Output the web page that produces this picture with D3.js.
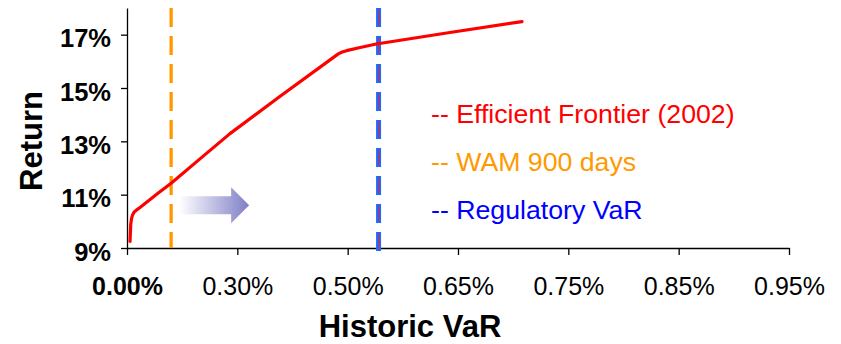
<!DOCTYPE html>
<html lang="en">
  <head>
    <meta charset="utf-8">
    <title>Efficient Frontier vs Historic VaR</title>
    <script src="https://d3js.org/d3.v7.min.js"></script>
    <style type="text/css">
      body,html{
        margin: 0;
        padding: 0;
        background: #fff;
        font-family: Arial, "Liberation Sans", sans-serif;
      }
      .axis path, .axis line{
        stroke: #000;
        stroke-width: 1.3px;
      }
    </style>
  </head>
  <body>
    <script type="text/javascript">

      var w = 841;
      var h = 344;

      var margin = {top: 8, right: 52, bottom: 96, left: 127};
      var width = w - margin.left - margin.right;
      var height = h - margin.top - margin.bottom;

      // efficient frontier (2002)
      var frontierVaR    = [0.0082, 0.0101, 0.0122, 0.0149, 0.019, 0.0264, 0.0353, 0.085, 0.12, 0.20, 0.28, 0.377, 0.483, 0.490, 0.498, 0.517, 0.539, 0.639, 0.708];
      var frontierReturn = [9.25, 9.87, 10.10, 10.23, 10.34, 10.43, 10.52, 11.06, 11.43, 12.36, 13.29, 14.68, 16.28, 16.35, 16.40, 16.52, 16.65, 17.08, 17.49];

      var wamVaR = 0.12;        // WAM 900 days
      var regulatoryVaR = 0.542; // Regulatory VaR

      var xTicks = [0, 0.30, 0.50, 0.65, 0.75, 0.85, 0.95];
      var yTicks = [9, 11, 13, 15, 17];

      var legendLabels = ["-- Efficient Frontier (2002)", "-- WAM 900 days", "-- Regulatory VaR"];
      var legendColors = ["#ff0000", "#ff9900", "#0000ff"];

      var svg = d3.select("body")
        .append("svg")
        .attr("width", w)
        .attr("height", h);

      var g = svg.append("g")
        .attr("transform", "translate(" + margin.left + "," + margin.top + ")");

      // the axis labels are evenly spaced though the values are not -> polylinear scale
      var x = d3.scaleLinear()
        .domain(xTicks)
        .range(xTicks.map(function(d, i){ return i * width / (xTicks.length - 1); }));

      var y = d3.scaleLinear()
        .domain([9, 18])
        .range([height, 0]);

      // arrow gradient
      var defs = svg.append("defs");
      var grad = defs.append("linearGradient")
        .attr("id", "arrowGrad")
        .attr("x1", "0%").attr("x2", "100%");
      grad.append("stop").attr("offset", "0%").attr("stop-color", "#ffffff");
      grad.append("stop").attr("offset", "100%").attr("stop-color", "#7f7fc6");

      // axes
      var xAxis = g.append("g")
        .attr("class", "axis")
        .attr("transform", "translate(0," + height + ")")
        .call(d3.axisBottom(x)
          .tickValues(xTicks)
          .tickSize(7)
          .tickSizeOuter(0)
          .tickPadding(22)
          .tickFormat(function(d){ return d3.format(".2f")(d) + "%"; }));

      xAxis.selectAll("text")
        .style("font-size", "25px")
        .style("font-family", "Arial, 'Liberation Sans', sans-serif")
        .attr("fill", "#000")
        .style("font-weight", function(d, i){ return i == 0 ? "bold" : "normal"; });

      var yAxis = g.append("g")
        .attr("class", "axis")
        .call(d3.axisLeft(y)
          .tickValues(yTicks)
          .tickSize(6)
          .tickSizeOuter(0)
          .tickPadding(10)
          .tickFormat(function(d){ return d + "%"; }));

      yAxis.selectAll("text")
        .attr("dy", "0.48em")
        .attr("fill", "#000")
        .style("font-size", "25.5px")
        .style("font-weight", "bold")
        .style("font-family", "Arial, 'Liberation Sans', sans-serif");

      // vertical reference lines
      g.append("line")
        .attr("x1", x(wamVaR)).attr("x2", x(wamVaR))
        .attr("y1", 0).attr("y2", height)
        .attr("stroke", "#ff9900")
        .attr("stroke-width", 3.3)
        .attr("stroke-dasharray", "19,9");

      g.append("line")
        .attr("x1", x(regulatoryVaR)).attr("x2", x(regulatoryVaR))
        .attr("y1", 0).attr("y2", height + 4)
        .attr("stroke", "#1a6cff")
        .attr("stroke-width", 5)
        .attr("stroke-dasharray", "19,9");

      g.append("line")
        .attr("x1", x(regulatoryVaR)).attr("x2", x(regulatoryVaR))
        .attr("y1", 2).attr("y2", height + 2)
        .attr("stroke", "#e0204a")
        .attr("stroke-width", 1.2)
        .attr("stroke-dasharray", "15,13");

      // frontier
      var line = d3.line()
        .x(function(d, i){ return x(frontierVaR[i]); })
        .y(function(d){ return y(d); });

      g.append("path")
        .datum(frontierReturn)
        .attr("fill", "none")
        .attr("stroke", "#ff0000")
        .attr("stroke-width", 3.2)
        .attr("stroke-linejoin", "round")
        .attr("stroke-linecap", "round")
        .attr("d", line);

      // arrow pointing right from the WAM line
      var ax0 = x(wamVaR) + 8, ax1 = x(wamVaR) + 78, ay = y(10.6);
      g.append("path")
        .attr("d", "M" + ax0 + "," + (ay - 9) +
                   "L" + (ax1 - 18) + "," + (ay - 9) +
                   "L" + (ax1 - 18) + "," + (ay - 18) +
                   "L" + ax1 + "," + ay +
                   "L" + (ax1 - 18) + "," + (ay + 18) +
                   "L" + (ax1 - 18) + "," + (ay + 9) +
                   "L" + ax0 + "," + (ay + 9) + "Z")
        .attr("fill", "url(#arrowGrad)");

      // legend text
      svg.append("g")
        .selectAll("text")
        .data(legendLabels)
        .enter()
        .append("text")
        .attr("x", 431)
        .attr("y", function(d, i){ return 123 + i * 48; })
        .attr("fill", function(d, i){ return legendColors[i]; })
        .style("font-size", "26.7px")
        .text(function(d){ return d; });

      // axis titles
      svg.append("text")
        .attr("text-anchor", "middle")
        .attr("transform", "translate(42,141) rotate(-90)")
        .style("font-size", "31px")
        .style("font-weight", "bold")
        .text("Return");

      svg.append("text")
        .attr("text-anchor", "middle")
        .attr("x", 410)
        .attr("y", 337)
        .style("font-size", "31px")
        .style("font-weight", "bold")
        .text("Historic VaR");

    </script>
  </body>
</html>
